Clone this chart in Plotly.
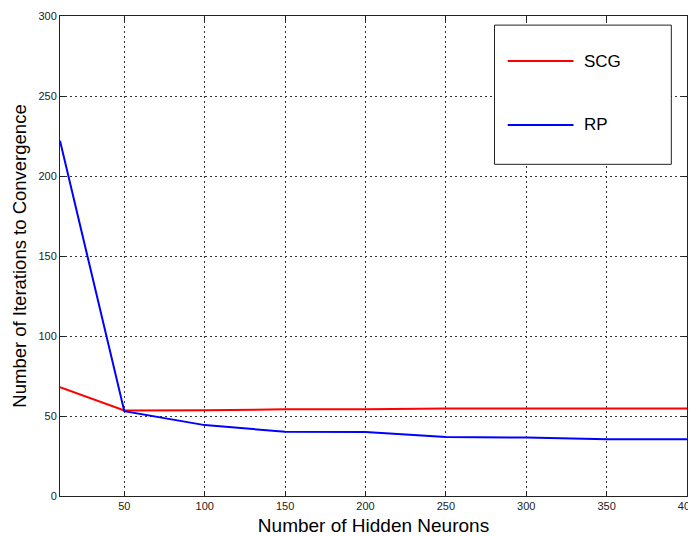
import plotly.graph_objects as go

# data
hidden_neurons = [10, 50, 100, 150, 200, 250, 300, 350, 400]
scg_iters = [68, 53.5, 53.6, 54.2, 54.2, 54.7, 54.7, 54.7, 54.7]
rp_iters = [222, 53, 44.3, 40.2, 40, 36.8, 36.5, 35.4, 35.4]

x_ticks = [50, 100, 150, 200, 250, 300, 350, 400]
y_ticks = [0, 50, 100, 150, 200, 250, 300]

fig = go.Figure()

fig.add_trace(go.Scatter(x=hidden_neurons, y=scg_iters, mode='lines', name='SCG',
                         line=dict(color='#ff0000', width=2), showlegend=False))
fig.add_trace(go.Scatter(x=hidden_neurons, y=rp_iters, mode='lines', name='RP',
                         line=dict(color='#0000ff', width=2), showlegend=False))

axis_style = dict(showline=True, linecolor='#222', linewidth=1, mirror='allticks',
                  ticks='inside', ticklen=5, tickcolor='#222', automargin=False,
                  ticklabeloverflow='allow',
                  showgrid=True, gridcolor='#333', gridwidth=1, griddash='2px,3px',
                  zeroline=False, tickfont=dict(family='Arial', size=11, color='#222'))

fig.update_xaxes(range=[10, 400], tickvals=x_ticks, **axis_style,
                 title=dict(text='Number of Hidden Neurons', standoff=7,
                            font=dict(family='Arial', size=19, color='#000')))
fig.update_yaxes(range=[0, 300], tickvals=y_ticks, **axis_style,
                 title=dict(text='Number of Iterations to Convergence', standoff=6,
                            font=dict(family='Arial', size=18.5, color='#000')))

# MATLAB style legend box drawn by hand
fig.add_shape(type='rect', xref='paper', yref='paper', x0=0.693, x1=0.975, y0=0.691, y1=0.981,
              line=dict(color='#222', width=1), fillcolor='white', layer='above')
legend_items = [('SCG', '#ff0000', 0.906), ('RP', '#0000ff', 0.773)]
for name, color, ypos in legend_items:
    fig.add_shape(type='line', xref='paper', yref='paper', x0=0.714, x1=0.819, y0=ypos, y1=ypos,
                  line=dict(color=color, width=2), layer='above')
    fig.add_annotation(text=name, xref='paper', yref='paper', x=0.832, y=ypos,
                       xanchor='left', yanchor='middle', showarrow=False,
                       font=dict(family='Arial', size=17, color='#000'))

# page body adds an 8px margin, so the figure is 8px smaller and shifted
fig.update_layout(width=688, height=528, autosize=False,
                  margin=dict(l=52, r=9, t=8, b=40),
                  plot_bgcolor='white', paper_bgcolor='white')

fig.write_html("out.html")
